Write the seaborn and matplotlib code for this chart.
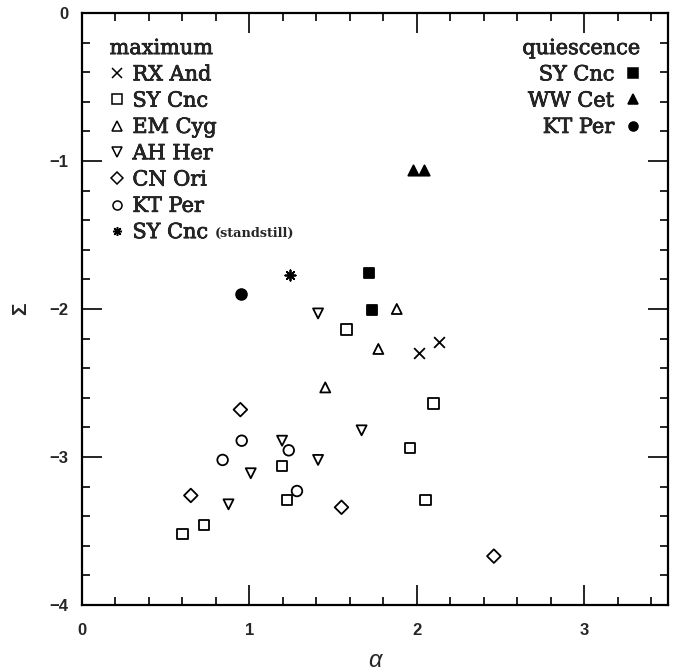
import matplotlib
matplotlib.use("Agg")
import matplotlib.pyplot as plt
import matplotlib.patheffects as pe
from matplotlib.lines import Line2D
from matplotlib.ticker import MultipleLocator
import numpy as np
import pandas as pd
import seaborn as sns

# --- outburst maximum ---
rx_and_alpha = [2.01, 2.13]
rx_and_sigma = [-2.30, -2.22]
sy_cnc_alpha = [0.60, 0.73, 1.195, 1.225, 1.58, 1.96, 2.05, 2.10]
sy_cnc_sigma = [-3.52, -3.46, -3.06, -3.29, -2.14, -2.94, -3.29, -2.64]
em_cyg_alpha = [1.453, 1.77, 1.88]
em_cyg_sigma = [-2.53, -2.27, -2.00]
ah_her_alpha = [0.875, 1.008, 1.195, 1.41, 1.41, 1.67]
ah_her_sigma = [-3.32, -3.11, -2.89, -3.02, -2.03, -2.82]
cn_ori_alpha = [0.65, 0.946, 1.55, 2.46]
cn_ori_sigma = [-3.26, -2.68, -3.34, -3.67]
kt_per_alpha = [0.84, 0.954, 1.235, 1.284]
kt_per_sigma = [-3.02, -2.89, -2.955, -3.23]
sy_cnc_ss_alpha = [1.245]
sy_cnc_ss_sigma = [-1.77]

# --- quiescence ---
sy_cnc_q_alpha = [1.716, 1.734]
sy_cnc_q_sigma = [-1.755, -2.007]
ww_cet_q_alpha = [1.98, 2.04]
ww_cet_q_sigma = [-1.06, -1.06]
kt_per_q_alpha = [0.95]
kt_per_q_sigma = [-1.90]

max_labels = ["RX And", "SY Cnc", "EM Cyg", "AH Her", "CN Ori", "KT Per", "SY Cnc"]
qui_labels = ["SY Cnc", "WW Cet", "KT Per"]

sns.set_theme(style="ticks")
plt.rcParams["font.family"] = ["Liberation Sans", "DejaVu Sans"]

fig = plt.figure(figsize=(6.77, 6.71), dpi=100)
ax = fig.add_axes([0.1211, 0.0984, 0.8656, 0.8822])

# (alpha, sigma, marker, filled, size)
groups = [
    (rx_and_alpha, rx_and_sigma, "x", False, 60),
    (sy_cnc_alpha, sy_cnc_sigma, "s", False, 58),
    (em_cyg_alpha, em_cyg_sigma, "^", False, 52),
    (ah_her_alpha, ah_her_sigma, "v", False, 52),
    (cn_ori_alpha, cn_ori_sigma, "D", False, 48),
    (kt_per_alpha, kt_per_sigma, "o", False, 58),
    (sy_cnc_ss_alpha, sy_cnc_ss_sigma, (8, 2, 0), False, 55),
    (sy_cnc_q_alpha, sy_cnc_q_sigma, "s", True, 45),
    (ww_cet_q_alpha, ww_cet_q_sigma, "^", True, 55),
    (kt_per_q_alpha, kt_per_q_sigma, "o", True, 60),
]

for a, s, m, filled, size in groups:
    df = pd.DataFrame({"alpha": a, "sigma": s})
    if filled or m in ("x", (8, 2, 0)):
        sns.scatterplot(data=df, x="alpha", y="sigma", marker=m, s=size,
                        color="black", edgecolor="black", linewidth=1.3, ax=ax,
                        legend=False)
    else:
        sns.scatterplot(data=df, x="alpha", y="sigma", marker=m, s=size,
                        facecolor="none", edgecolor="black", linewidth=1.3,
                        ax=ax, legend=False)

ax.set_xlim(0, 3.5)
ax.set_ylim(-4, 0)
ax.xaxis.set_major_locator(MultipleLocator(1))
ax.xaxis.set_minor_locator(MultipleLocator(0.2))
ax.yaxis.set_major_locator(MultipleLocator(1))
ax.yaxis.set_minor_locator(MultipleLocator(0.2))
ax.tick_params(which="both", direction="in", top=True, right=True,
               color="black", width=1.2)
ax.tick_params(which="major", length=14.5, labelsize=12)
ax.tick_params(axis="x", which="major", pad=13)
ax.tick_params(axis="y", which="major", pad=10)
ax.tick_params(which="minor", length=6)
for sp in ax.spines.values():
    sp.set_linewidth(1.6)
    sp.set_color("black")
for lab in ax.get_xticklabels() + ax.get_yticklabels():
    lab.set_fontweight("bold")

ax.set_xlabel("\u03b1", fontsize=17, fontstyle="italic", labelpad=8)
ax.set_ylabel("\u03a3", fontsize=15, fontweight="bold", labelpad=14)

serif = {"family": "DejaVu Serif", "weight": "normal", "size": 15}
heavy = [pe.withStroke(linewidth=0.5, foreground="black")]

def key(marker, filled):
    return Line2D([], [], linestyle="none", marker=marker, markersize=6.5,
                  markeredgewidth=1.1, markeredgecolor="black",
                  markerfacecolor="black" if filled else "none", color="black")

max_handles = [key("x", False), key("s", False), key("^", False),
               key("v", False), key("D", False), key("o", False),
               key((8, 2, 0), False)]
leg1 = ax.legend(max_handles, max_labels, title="maximum", loc="upper left",
                 bbox_to_anchor=(0.047, 0.956), frameon=False, prop=serif,
                 title_fontproperties=serif, alignment="left",
                 handlelength=0.7, handletextpad=0.4, labelspacing=0.35,
                 borderpad=0.0, borderaxespad=0.0)
ax.add_artist(leg1)
ss = ax.annotate("(standstill)", xy=(1, 0.12), xycoords=leg1.get_texts()[-1],
                 xytext=(5, 0), textcoords="offset points", va="bottom",
                 fontsize=9.3, family="DejaVu Serif", fontweight="bold",
                 zorder=20)

qui_handles = [key("s", True), key("^", True), key("o", True)]
leg2 = ax.legend(qui_handles, qui_labels, title="quiescence", loc="upper right",
                 bbox_to_anchor=(0.953, 0.956), frameon=False, prop=serif,
                 title_fontproperties=serif, alignment="right",
                 markerfirst=False, handlelength=0.7, handletextpad=0.55,
                 labelspacing=0.35, borderpad=0.0, borderaxespad=0.0)

for lg in (leg1, leg2):
    for t in lg.get_texts() + [lg.get_title()]:
        t.set_path_effects(heavy)

fig.savefig("out.png", dpi=100, facecolor="white")
